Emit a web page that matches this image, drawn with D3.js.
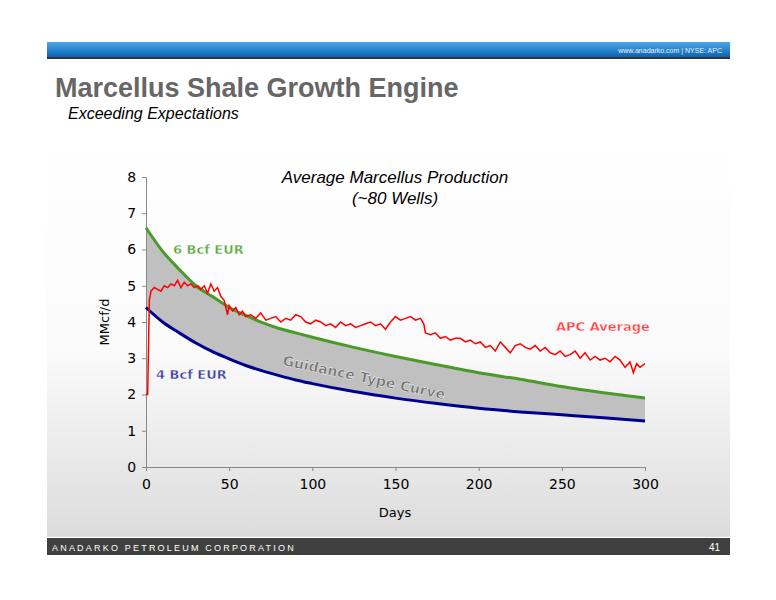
<!DOCTYPE html><html><head><meta charset="utf-8">
<script src="https://cdn.jsdelivr.net/npm/d3@7"></script>
<style>body{margin:0;background:#fff}svg{display:block}</style></head><body>
<svg id="c" width="776" height="600"></svg>
<script>
const xTicks=[0,50,100,150,200,250,300];
const yTicks=[0,1,2,3,4,5,6,7,8];
const curveDays=[0,10,20,30,40,50,60,70,80,90,100,125,150,175,200,225,250,275,300];
const high6=[6.6,5.95,5.45,5.0,4.7,4.4,4.18,3.98,3.82,3.7,3.58,3.3,3.05,2.82,2.6,2.42,2.22,2.05,1.9];
const low4=[4.4,4.0,3.7,3.42,3.18,2.98,2.8,2.65,2.52,2.4,2.3,2.08,1.9,1.75,1.62,1.52,1.44,1.36,1.27];
const apcDays=[0,1,2,3,5,7,9,11,13,15,17,19,21,23,25,27,29,31,33,35,37,39,41,43,45,47,49,50,52,54,56,58,60,63,66,69,72,75,78,81,84,87,90,93,96,99,102,105,108,111,114,117,120,123,126,129,132,135,138,141,144,147,150,153,156,159,162,165,167,168,171,174,177,180,183,186,189,192,195,198,201,204,207,210,213,216,219,222,225,228,231,234,237,240,243,246,249,252,255,258,261,264,267,270,273,276,279,282,285,288,291,293,295,297,300];
const apc=[2.0,2.0,4.6,4.85,4.95,4.9,4.85,5.0,4.95,5.05,5.0,5.15,4.95,5.1,5.0,5.05,4.95,5.0,4.9,5.0,4.8,5.05,4.85,4.95,4.7,4.6,4.2,4.45,4.3,4.4,4.2,4.3,4.15,4.2,4.1,4.25,4.05,4.1,4.15,4.0,4.1,4.05,4.2,4.15,4.0,3.95,4.05,4.0,3.9,3.95,3.85,4.0,3.9,3.95,3.85,3.9,3.95,4.0,3.9,3.95,3.8,4.0,4.15,4.05,4.1,4.15,4.05,4.1,3.95,3.7,3.65,3.7,3.55,3.6,3.5,3.55,3.55,3.45,3.5,3.4,3.45,3.3,3.35,3.2,3.45,3.3,3.15,3.35,3.4,3.3,3.25,3.35,3.2,3.3,3.15,3.1,3.2,3.05,3.1,3.2,3.0,3.15,2.95,3.05,2.95,3.0,2.9,3.05,2.95,2.75,2.9,2.6,2.85,2.75,2.85];
const svg=d3.select("#c");
const defs=svg.append("defs");
const g1=defs.append("linearGradient").attr("id","bg").attr("x1",0).attr("y1",0).attr("x2",0).attr("y2",1);
g1.append("stop").attr("offset","0%").attr("stop-color","#ffffff");
g1.append("stop").attr("offset","55%").attr("stop-color","#fafafa");
g1.append("stop").attr("offset","100%").attr("stop-color","#dcdcdc");
const g2=defs.append("linearGradient").attr("id","bar").attr("x1",0).attr("y1",0).attr("x2",0).attr("y2",1);
g2.append("stop").attr("offset","0%").attr("stop-color","#4da6ea");
g2.append("stop").attr("offset","100%").attr("stop-color","#0a64b4");
svg.append("rect").attr("x",47).attr("y",135).attr("width",683).attr("height",402).attr("fill","url(#bg)");
svg.append("rect").attr("x",47).attr("y",42).attr("width",683).attr("height",15).attr("fill","url(#bar)");
svg.append("rect").attr("x",47).attr("y",57).attr("width",683).attr("height",2).attr("fill","#333");
svg.append("text").attr("x",722).attr("y",53).attr("text-anchor","end").attr("font-family","Liberation Sans").attr("font-size",7).attr("fill","#e8f2fb").text("www.anadarko.com  |   NYSE: APC");
svg.append("text").attr("x",55).attr("y",97).attr("font-family","Liberation Sans").attr("font-weight","bold").attr("font-size",27).attr("fill","#666").text("Marcellus Shale Growth Engine");
svg.append("text").attr("x",68).attr("y",119).attr("font-family","Liberation Sans").attr("font-style","italic").attr("font-size",16).attr("fill","#000").text("Exceeding Expectations");
svg.append("rect").attr("x",47).attr("y",538).attr("width",683).attr("height",17).attr("fill","#404040");
svg.append("text").attr("x",52).attr("y",551).attr("font-family","Liberation Sans").attr("font-size",9).attr("letter-spacing",2.2).attr("fill","#fff").text("ANADARKO PETROLEUM CORPORATION");
svg.append("text").attr("x",720).attr("y",551).attr("text-anchor","end").attr("font-family","Liberation Sans").attr("font-size",10).attr("fill","#fff").text("41");

const x=d3.scaleLinear().domain([0,300]).range([146,645]);
const y=d3.scaleLinear().domain([0,8]).range([467,177]);
const cur=curveDays.map((d,i)=>({d,h:high6[i],l:low4[i]}));
svg.append("path").datum(cur).attr("fill","#c0c0c0").attr("d",d3.area().curve(d3.curveMonotoneX).x(p=>x(p.d)).y0(p=>y(p.l)).y1(p=>y(p.h)));
const ax=svg.append("g").attr("transform","translate(0,467)").call(d3.axisBottom(x).tickValues(xTicks).tickSize(4).tickSizeOuter(0));
const ay=svg.append("g").attr("transform","translate(146,0)").call(d3.axisLeft(y).tickValues(yTicks).tickSize(4).tickSizeOuter(0));
[ax,ay].forEach(a=>{a.selectAll("path,line").attr("stroke","#888");a.selectAll("text").attr("font-family","Verdana, DejaVu Sans").attr("font-size",14).attr("fill","#000");});
ax.selectAll("text").attr("dy","1.1em");
ay.selectAll("text").attr("dx","-0.2em");
svg.append("path").datum(cur).attr("fill","none").attr("stroke","#000090").attr("stroke-width",3).attr("d",d3.line().curve(d3.curveMonotoneX).x(p=>x(p.d)).y(p=>y(p.l)));
svg.append("path").datum(cur).attr("fill","none").attr("stroke","#4a9a2a").attr("stroke-width",3).attr("d",d3.line().curve(d3.curveMonotoneX).x(p=>x(p.d)).y(p=>y(p.h)));
svg.append("path").datum(apcDays.map((d,i)=>[d,apc[i]])).attr("fill","none").attr("stroke","#ff0000").attr("stroke-width",1.5).attr("d",d3.line().x(p=>x(p[0])).y(p=>y(p[1])));
const lab=(t,xx,yy,c,s,rot)=>{const e=svg.append("text").attr("x",xx).attr("y",yy).attr("font-family","Verdana, DejaVu Sans").attr("font-weight","bold").attr("font-size",s).attr("fill",c).attr("stroke","#fff").attr("stroke-width",0.4).text(t);if(rot)e.attr("transform",`rotate(${rot},${xx},${yy})`);};
lab("6 Bcf EUR",173,254,"#5aa83a",13);
lab("4 Bcf EUR",156,379,"#3c3ca0",13);
lab("APC Average",556,331,"#ff4040",13);
lab("Guidance Type Curve",282,365,"#707070",14,12);
svg.append("text").attr("x",395).attr("y",183).attr("text-anchor","middle").attr("font-family","Liberation Sans").attr("font-style","italic").attr("font-size",17).text("Average Marcellus Production");
svg.append("text").attr("x",395).attr("y",204).attr("text-anchor","middle").attr("font-family","Liberation Sans").attr("font-style","italic").attr("font-size",17).text("(~80 Wells)");
svg.append("text").attr("x",395).attr("y",517).attr("text-anchor","middle").attr("font-family","Verdana, DejaVu Sans").attr("font-size",13).text("Days");
svg.append("text").attr("transform","translate(109,322) rotate(-90)").attr("text-anchor","middle").attr("font-family","Verdana, DejaVu Sans").attr("font-size",13).text("MMcf/d");
</script></body></html>
